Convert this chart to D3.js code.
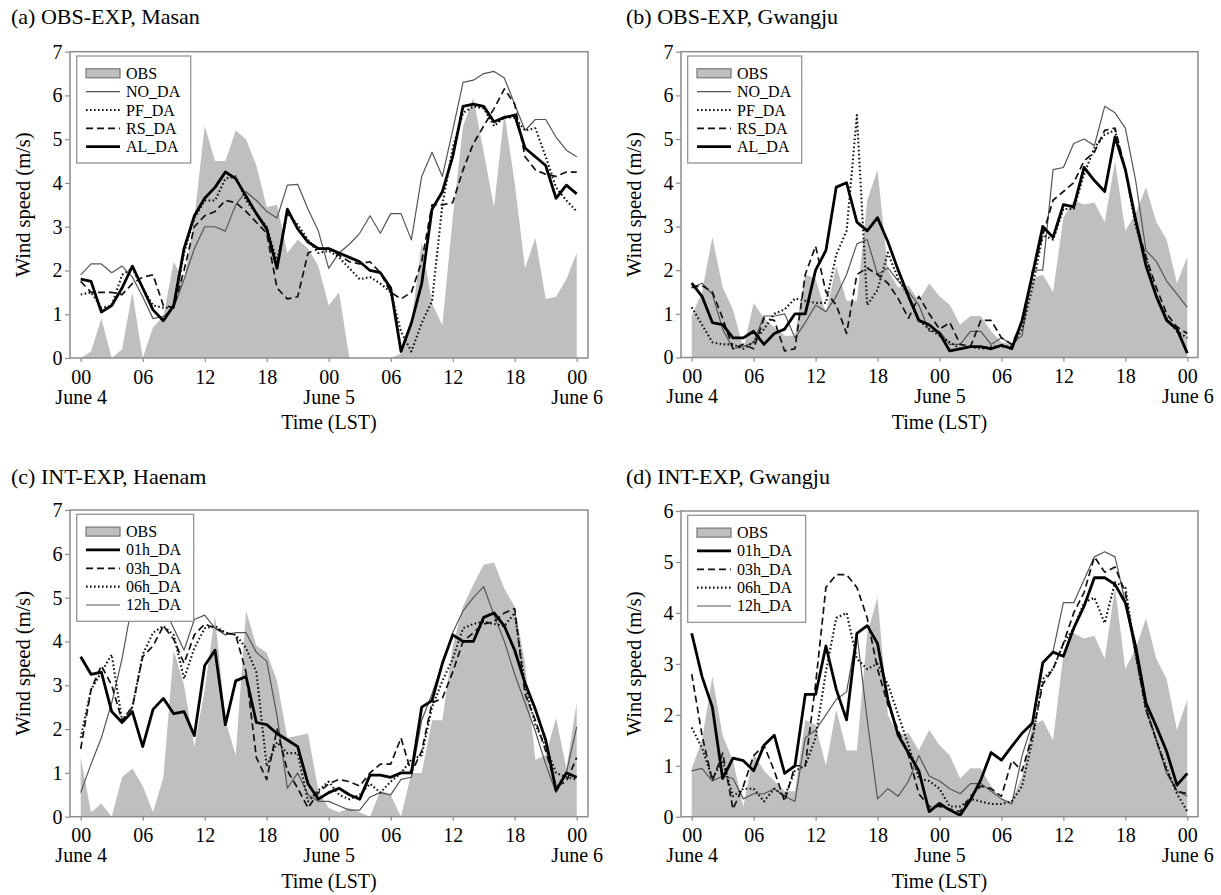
<!DOCTYPE html>
<html>
<head>
<meta charset="utf-8">
<title>Wind speed, June 4-6</title>
<script src="https://cdnjs.cloudflare.com/ajax/libs/d3/7.8.5/d3.min.js"></script>
<style>
    body { margin: 0; background: #fff; }
    svg text { font-family: "Liberation Serif", "Times New Roman", serif; fill: #000; }
</style>
</head>
<body>
<svg id="chart" width="1221" height="895"></svg>
<script>
// hourly steps from 00 LST June 4 to 00 LST June 6
var hours = d3.range(0, 49);
var hourTicks = [0, 6, 12, 18, 24, 30, 36, 42, 48];
var hourTickLabels = ["00", "06", "12", "18", "00", "06", "12", "18", "00"];
var dayTicks = [0, 24, 48];
var dayLabels = ["June 4", "June 5", "June 6"];

// (a) OBS-EXP, Masan
var obsMasan = [0, 0.15, 0.9, 0, 0.2, 1.5, 0, 0.7, 0.95, 2.2, 1.75, 3.2, 5.3, 4.5, 4.5, 5.2, 5.0, 4.4, 3.45, 3.5, 2.4, 2.7, 2.5, 2.1, 1.2,
    1.5, 0, 0, 0, 0, 0, 0.1, 0.8, 2.65, 1.25, 0.75, 3.2, 5.3, 5.95, 4.7, 3.45, 5.6, 4.0, 2.05, 2.75, 1.35, 1.4, 1.8, 2.4];
var noDaMasan = [1.9, 2.15, 2.15, 1.95, 2.1, 1.85, 1.4, 0.9, 0.95, 1.15, 1.8, 2.5, 3.0, 3.0, 2.9, 3.5, 3.8, 3.6, 3.35, 3.2, 3.95, 3.97, 3.4, 2.9, 2.05,
    2.4, 2.6, 2.85, 3.25, 2.85, 3.3, 3.3, 2.7, 4.15, 4.7, 4.15, 5.2, 6.3, 6.35, 6.5, 6.55, 6.4, 5.8, 5.2, 5.45, 5.45, 5.05, 4.75, 4.6];
var pfDaMasan = [1.45, 1.5, 1.15, 1.2, 1.9, 2.05, 1.6, 1.2, 1.15, 1.15, 2.4, 3.2, 3.6, 3.6, 4.1, 4.15, 3.6, 3.3, 3.0, 2.2, 3.3, 3.05, 2.7, 2.4, 2.45,
    2.3, 2.05, 1.8, 1.85, 1.7, 1.5, 0.6, 0.15, 0.8, 1.3, 3.5, 4.8, 5.6, 5.75, 5.7, 5.3, 5.5, 5.5, 5.2, 5.25, 4.6, 3.9, 3.6, 3.35];
var rsDaMasan = [1.75, 1.5, 1.5, 1.5, 1.45, 1.7, 1.85, 1.9, 1.2, 1.15, 2.0, 3.0, 3.25, 3.35, 3.6, 3.55, 3.35, 3.1, 2.85, 1.6, 1.35, 1.4, 2.4, 2.5, 2.5,
    2.35, 2.2, 2.15, 2.2, 1.95, 1.5, 1.35, 1.5, 2.2, 3.5, 3.5, 3.55, 4.3, 4.9, 5.3, 5.7, 6.15, 5.8, 4.6, 4.3, 4.2, 4.15, 4.25, 4.25];
var alDaMasan = [1.8, 1.75, 1.05, 1.2, 1.6, 2.1, 1.6, 1.1, 0.85, 1.2, 2.5, 3.25, 3.65, 3.9, 4.25, 4.1, 3.7, 3.3, 2.95, 2.05, 3.4, 2.95, 2.65, 2.5, 2.5,
    2.4, 2.3, 2.2, 2.0, 1.95, 1.6, 0.15, 0.8, 1.7, 3.4, 3.8, 4.6, 5.75, 5.8, 5.75, 5.4, 5.5, 5.55, 4.8, 4.6, 4.4, 3.65, 3.95, 3.75];

// (b) OBS-EXP, Gwangju  (the same observation is shown again in (d))
var obsGwangju = [0.95, 1.5, 2.75, 1.6, 1.1, 0.2, 1.25, 0.9, 0.7, 0.5, 0.5, 1.9, 1.8, 1.0, 2.1, 1.3, 1.3, 3.6, 4.3, 2.0, 1.6, 1.65, 1.3, 1.7, 1.4,
    1.2, 0.75, 0.95, 0.95, 0.6, 0.35, 0.3, 0.8, 1.8, 1.9, 1.5, 3.2, 3.6, 3.5, 3.55, 3.1, 4.5, 2.9, 3.3, 3.9, 3.1, 2.7, 1.7, 2.3];
var noDaGwangju = [1.6, 1.7, 1.45, 0.65, 0.2, 0.25, 0.35, 0.95, 0.95, 1.0, 0.45, 0.8, 1.2, 1.05, 1.4, 1.9, 2.6, 2.7, 1.9, 2.05, 1.75, 1.5, 1.2, 0.6, 0.6,
    0.3, 0.3, 0.6, 0.6, 0.3, 0.45, 0.3, 0.5, 2.0, 2.0, 4.3, 4.35, 4.9, 5.0, 4.85, 5.75, 5.6, 5.25, 4.05, 2.45, 2.2, 1.75, 1.45, 1.15];
var pfDaGwangju = [1.15, 0.75, 0.35, 0.3, 0.3, 0.2, 0.35, 0.65, 1.0, 1.1, 1.35, 1.3, 1.25, 1.25, 2.35, 2.9, 5.55, 1.2, 1.55, 2.4, 1.8, 1.4, 0.85, 0.65, 0.5,
    0.35, 0.2, 0.25, 0.2, 0.25, 0.25, 0.25, 0.65, 1.6, 2.8, 2.7, 3.4, 3.4, 4.2, 4.8, 5.1, 5.2, 4.3, 3.0, 2.3, 1.4, 0.9, 0.6, 0.45];
var rsDaGwangju = [1.6, 1.65, 1.5, 0.9, 0.2, 0.3, 0.2, 0.9, 0.85, 0.15, 0.2, 1.9, 2.55, 1.5, 1.2, 0.55, 1.9, 2.05, 1.9, 1.7, 1.35, 0.9, 1.4, 1.0, 0.65,
    0.8, 0.3, 0.25, 0.85, 0.85, 0.45, 0.3, 0.8, 1.9, 2.8, 3.6, 3.8, 4.0, 4.5, 4.7, 5.2, 5.25, 4.3, 3.1, 2.3, 1.6, 1.0, 0.7, 0.55];
var alDaGwangju = [1.7, 1.4, 0.8, 0.75, 0.45, 0.45, 0.6, 0.3, 0.55, 0.65, 1.0, 1.0, 2.0, 2.45, 3.9, 4.0, 3.1, 2.9, 3.2, 2.65, 2.0, 1.4, 0.85, 0.75, 0.55,
    0.15, 0.2, 0.25, 0.25, 0.2, 0.28, 0.2, 0.85, 1.9, 3.0, 2.75, 3.5, 3.45, 4.35, 4.05, 3.8, 5.05, 4.3, 3.15, 2.1, 1.4, 0.85, 0.65, 0.1];

// (c) INT-EXP, Haenam
var obsHaenam = [1.35, 0.1, 0.3, 0, 0.9, 1.1, 0.7, 0.1, 0.9, 3.8, 3.0, 1.6, 2.9, 4.6, 2.2, 1.4, 4.7, 3.9, 3.75, 3.1, 1.8, 1.85, 1.9, 0.6, 0.2,
    0.1, 0.2, 0.1, 0, 0.6, 0.5, 0, 1.0, 1.0, 2.2, 2.2, 3.9, 4.8, 5.3, 5.75, 5.8, 5.2, 4.8, 3.5, 1.3, 1.4, 2.25, 1.1, 2.6];
var h01Haenam = [3.65, 3.25, 3.3, 2.4, 2.15, 2.4, 1.6, 2.45, 2.7, 2.35, 2.4, 1.85, 3.45, 3.8, 2.1, 3.1, 3.2, 2.15, 2.1, 1.9, 1.75, 1.6, 0.75, 0.4, 0.55,
    0.65, 0.5, 0.4, 0.95, 0.95, 0.9, 1.0, 1.0, 2.5, 2.65, 3.5, 4.15, 4.0, 4.0, 4.55, 4.65, 4.35, 3.8, 3.05, 2.45, 1.75, 0.6, 1.0, 0.9];
var h03Haenam = [1.55, 2.9, 3.45, 3.0, 2.2, 2.5, 3.65, 3.9, 4.35, 4.05, 3.5, 4.15, 4.4, 4.3, 4.2, 4.15, 3.3, 1.35, 0.85, 2.0, 1.05, 0.65, 0.2, 0.55, 0.75,
    0.85, 0.8, 0.7, 1.0, 1.2, 1.2, 1.8, 1.0, 1.5, 2.6, 2.7, 3.3, 4.0, 4.2, 4.4, 4.45, 4.65, 4.75, 2.8, 2.2, 1.5, 0.7, 0.8, 1.35];
var h06Haenam = [1.8, 2.9, 3.3, 3.7, 2.2, 2.5, 3.7, 4.2, 4.35, 4.15, 3.15, 3.85, 4.3, 4.35, 4.2, 4.15, 3.85, 3.3, 1.15, 1.7, 1.45, 1.45, 0.35, 0.6, 0.8,
    0.5, 0.4, 0.5, 0.75, 0.55, 0.8, 1.0, 1.3, 1.4, 2.5, 3.1, 3.6, 4.3, 4.4, 4.45, 4.4, 4.35, 4.65, 3.0, 2.1, 1.6, 1.0, 0.9, 0.85];
var h12Haenam = [0.55, 1.2, 1.8, 2.6, 3.6, 4.9, 5.2, 5.1, 4.8, 4.3, 3.8, 4.5, 4.6, 4.3, 4.15, 4.2, 4.2, 3.75, 3.55, 2.3, 0.65, 1.0, 0.5, 0.35, 0.35,
    0.25, 0.15, 0.15, 0.45, 0.55, 0.5, 0.85, 0.9, 2.2, 2.8, 3.5, 4.2, 4.7, 5.0, 5.25, 4.6, 4.0, 3.25, 2.6, 1.95, 1.2, 0.55, 1.0, 2.05];

// (d) INT-EXP, Gwangju
var h01Gwangju = [3.6, 2.75, 2.15, 0.75, 1.15, 1.1, 0.9, 1.4, 1.6, 0.85, 1.0, 2.4, 2.4, 3.35, 2.5, 1.9, 3.6, 3.75, 3.4, 2.3, 1.6, 1.25, 0.9, 0.1, 0.26,
    0.13, 0.03, 0.33, 0.72, 1.26, 1.11, 1.38, 1.64, 1.84, 3.02, 3.23, 3.15, 3.7, 4.13, 4.69, 4.69, 4.56, 4.2, 3.34, 2.23, 1.77, 1.28, 0.62, 0.85];
var h03Gwangju = [2.8, 1.6, 0.7, 1.25, 0.15, 0.6, 1.2, 1.4, 0.9, 0.3, 1.0, 1.0, 2.6, 4.5, 4.75, 4.75, 4.5, 3.9, 2.9, 2.2, 1.7, 1.2, 0.45, 0.2, 0.2,
    0.15, 0.1, 0.4, 0.6, 0.55, 0.4, 1.1, 0.9, 1.6, 2.6, 2.9, 3.4, 4.0, 4.4, 5.1, 4.8, 4.9, 4.4, 3.2, 2.1, 1.5, 0.9, 0.5, 0.45];
var h06Gwangju = [1.75, 1.35, 0.75, 1.1, 0.4, 0.55, 0.55, 0.3, 0.55, 0.4, 0.9, 1.0, 1.55, 2.85, 3.9, 4.0, 3.1, 2.9, 3.0, 2.6, 2.0, 1.4, 0.75, 0.7, 0.55,
    0.2, 0.2, 0.35, 0.3, 0.25, 0.25, 0.3, 0.6, 1.5, 2.7, 2.9, 3.4, 3.7, 4.2, 4.3, 3.8, 4.6, 4.5, 3.2, 2.1, 1.5, 0.95, 0.45, 0.1];
var h12Gwangju = [0.9, 0.95, 0.7, 0.8, 0.75, 0.35, 0.45, 0.45, 0.55, 0.4, 0.3, 1.55, 1.7, 2.0, 2.3, 2.45, 3.6, 1.9, 0.35, 0.55, 0.4, 0.7, 1.2, 0.8, 0.7,
    0.55, 0.45, 0.65, 0.65, 0.5, 0.35, 0.25, 1.2, 1.85, 3.0, 3.25, 4.2, 4.2, 4.65, 5.1, 5.2, 5.1, 4.2, 3.15, 2.15, 1.5, 0.85, 0.5, 0.4];

(function() {

    "use strict";

    var svg = d3.select("#chart");

    var frameColor = "#8c8c8c";
    var obsColor = "#bfbfbf";

    var lineStyles = {
        thin:   { stroke: "#555", width: 1.2, dash: null, order: 0 },
        dotted: { stroke: "#111", width: 2.1, dash: "1.6,2.4", order: 1 },
        dashed: { stroke: "#111", width: 1.7, dash: "7,4", order: 2 },
        thick:  { stroke: "#000", width: 2.8, dash: null, order: 3 }
    };

    var leftCol = { left: 70, right: 588, x0: 80.7, x1: 576.7, titleX: 11 };
    var rightCol = { left: 681, right: 1198, x0: 691.7, x1: 1187.3, titleX: 626 };

    var panels = [
        { col: leftCol, top: 51.7, bottom: 358, titleY: 24, title: "(a) OBS-EXP, Masan", yMax: 7, obs: obsMasan, legendW: 114,
          series: [
              { name: "NO_DA", values: noDaMasan, style: "thin" },
              { name: "PF_DA", values: pfDaMasan, style: "dotted" },
              { name: "RS_DA", values: rsDaMasan, style: "dashed" },
              { name: "AL_DA", values: alDaMasan, style: "thick" }
          ] },
        { col: rightCol, top: 51.7, bottom: 357.5, titleY: 24, title: "(b) OBS-EXP, Gwangju", yMax: 7, obs: obsGwangju, legendW: 114,
          series: [
              { name: "NO_DA", values: noDaGwangju, style: "thin" },
              { name: "PF_DA", values: pfDaGwangju, style: "dotted" },
              { name: "RS_DA", values: rsDaGwangju, style: "dashed" },
              { name: "AL_DA", values: alDaGwangju, style: "thick" }
          ] },
        { col: leftCol, top: 510, bottom: 816.7, titleY: 484, title: "(c) INT-EXP, Haenam", yMax: 7, obs: obsHaenam, legendW: 117,
          series: [
              { name: "01h_DA", values: h01Haenam, style: "thick" },
              { name: "03h_DA", values: h03Haenam, style: "dashed" },
              { name: "06h_DA", values: h06Haenam, style: "dotted" },
              { name: "12h_DA", values: h12Haenam, style: "thin" }
          ] },
        { col: rightCol, top: 511, bottom: 816.7, titleY: 484, title: "(d) INT-EXP, Gwangju", yMax: 6, obs: obsGwangju, legendW: 118,
          series: [
              { name: "01h_DA", values: h01Gwangju, style: "thick" },
              { name: "03h_DA", values: h03Gwangju, style: "dashed" },
              { name: "06h_DA", values: h06Gwangju, style: "dotted" },
              { name: "12h_DA", values: h12Gwangju, style: "thin" }
          ] }
    ];

    var drawPanel = function(p, idx) {
        var c = p.col;
        var g = svg.append("g").attr("class", "panel");

        var x = d3.scaleLinear().domain([0, 48]).range([c.x0, c.x1]);
        var y = d3.scaleLinear().domain([0, p.yMax]).range([p.bottom, p.top]);

        var clipId = "clip-" + idx;
        svg.append("clipPath").attr("id", clipId)
            .append("rect")
            .attr("x", c.left).attr("y", p.top)
            .attr("width", c.right - c.left).attr("height", p.bottom - p.top);

        var plot = g.append("g").attr("clip-path", "url(#" + clipId + ")");

        // observed wind speed as grey area
        plot.append("path")
            .datum(hours)
            .attr("fill", obsColor)
            .attr("d", d3.area()
                .x(function(h) { return x(h); })
                .y0(y(0))
                .y1(function(h) { return y(p.obs[h]); }));

        var drawn = p.series.slice().sort(function(a, b) {
            return lineStyles[a.style].order - lineStyles[b.style].order;
        });

        drawn.forEach(function(s) {
            var st = lineStyles[s.style];
            plot.append("path")
                .datum(hours)
                .attr("fill", "none")
                .attr("stroke", st.stroke)
                .attr("stroke-width", st.width)
                .attr("stroke-dasharray", st.dash)
                .attr("stroke-linejoin", "round")
                .attr("d", d3.line()
                    .x(function(h) { return x(h); })
                    .y(function(h) { return y(s.values[h]); }));
        });

        // axes
        var yAxis = g.append("g")
            .attr("transform", "translate(" + c.left + ",0)")
            .call(d3.axisLeft(y).ticks(p.yMax).tickSize(5).tickPadding(2.5).tickFormat(d3.format("d")));

        var xAxis = g.append("g")
            .attr("transform", "translate(0," + p.bottom + ")")
            .call(d3.axisBottom(x).tickValues(hourTicks).tickSize(4).tickPadding(7.5)
                .tickFormat(function(d, i) { return hourTickLabels[i]; }));

        [yAxis, xAxis].forEach(function(ax) {
            ax.select(".domain").remove();
            ax.selectAll(".tick line").attr("stroke", frameColor).attr("stroke-width", 1.2);
            ax.selectAll(".tick text")
                .style("font-family", "'Liberation Serif', 'Times New Roman', serif")
                .style("font-size", "20px")
                .attr("fill", "#000");
        });

        // the date sits under its 00 tick, as a second line of the same label
        xAxis.selectAll(".tick text")
            .filter(function(d) { return dayTicks.indexOf(d) >= 0; })
            .append("tspan")
            .attr("x", 0)
            .attr("dy", "1em")
            .text(function(d) { return dayLabels[dayTicks.indexOf(d)]; });

        // plot frame
        g.append("rect")
            .attr("x", c.left).attr("y", p.top)
            .attr("width", c.right - c.left).attr("height", p.bottom - p.top)
            .attr("fill", "none")
            .attr("stroke", frameColor)
            .attr("stroke-width", 1.5);

        g.append("text")
            .attr("x", (c.left + c.right) / 2)
            .attr("y", p.bottom + 71)
            .attr("text-anchor", "middle")
            .style("font-size", "20px")
            .text("Time (LST)");

        g.append("text")
            .attr("transform", "translate(" + (c.left - 40) + "," + ((p.top + p.bottom) / 2) + ") rotate(-90)")
            .attr("text-anchor", "middle")
            .style("font-size", "20.5px")
            .text("Wind speed (m/s)");

        g.append("text")
            .attr("x", c.titleX)
            .attr("y", p.titleY)
            .style("font-size", "22px")
            .text(p.title);

        // legend
        var legend = g.append("g")
            .attr("transform", "translate(" + (c.left + 6.7) + "," + (p.top + 4.3) + ")");

        legend.append("rect")
            .attr("width", p.legendW).attr("height", 107)
            .attr("fill", "#fff")
            .attr("stroke", frameColor)
            .attr("stroke-width", 1.2);

        var rowY = function(i) { return 17.3 + i * 18.35; };

        legend.append("rect")
            .attr("x", 9.3).attr("y", rowY(0) - 4.5)
            .attr("width", 34).attr("height", 9)
            .attr("fill", obsColor)
            .attr("stroke", "#777")
            .attr("stroke-width", 1.2);

        legend.append("text")
            .attr("x", 49.3).attr("y", rowY(0) + 5.5)
            .style("font-size", "16px")
            .text("OBS");

        p.series.forEach(function(s, i) {
            var st = lineStyles[s.style];
            legend.append("line")
                .attr("x1", 9.3).attr("x2", 43.3)
                .attr("y1", rowY(i + 1)).attr("y2", rowY(i + 1))
                .attr("stroke", st.stroke)
                .attr("stroke-width", st.width)
                .attr("stroke-dasharray", st.dash);

            legend.append("text")
                .attr("x", 49.3).attr("y", rowY(i + 1) + 5.5)
                .style("font-size", "16px")
                .text(s.name);
        });
    };

    panels.forEach(drawPanel);

}());
</script>
</body>
</html>
